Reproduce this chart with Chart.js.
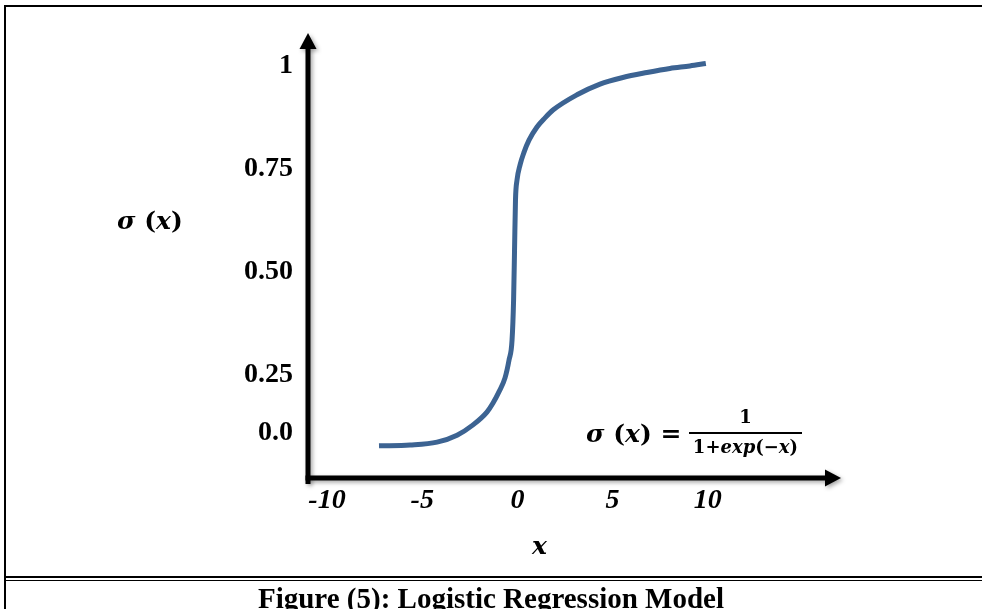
<!DOCTYPE html>
<html><head><meta charset="utf-8">
<script src="https://cdn.jsdelivr.net/npm/chart.js@4.4.1/dist/chart.umd.min.js"></script>
<style>
html,body{margin:0;padding:0;background:#fff;width:982px;height:609px;overflow:hidden;}
#wrap{position:relative;width:982px;height:609px;}
#c{position:absolute;left:0;top:0;}
.t{position:absolute;white-space:nowrap;font-family:"Liberation Serif","Times New Roman",serif;font-weight:bold;color:#000;line-height:1;}
.m{position:absolute;white-space:nowrap;font-family:"DejaVu Serif",serif;font-weight:bold;color:#000;line-height:1;}
.i{font-style:italic;}
.line{position:absolute;background:#000;}
</style>
</head><body>
<div id="wrap">
<canvas id="c" width="982" height="609"></canvas>
<div class="line" style="left:4px;top:5px;width:978px;height:2px;"></div>
<div class="line" style="left:4px;top:5px;width:2px;height:604px;"></div>
<div class="line" style="left:4px;top:576px;width:978px;height:2px;"></div>
<div class="line" style="left:4px;top:580px;width:978px;height:1px;"></div>
<div class="m" id="ytitle" style="left:117px;top:208px;font-size:25px;"><span class="i">σ</span> (<span class="i">x</span>)</div>
<div class="m" id="xtitle" style="left:532px;top:533px;font-size:25px;"><span class="i">x</span></div>
<div class="m" id="flhs" style="left:586px;top:421px;font-size:25px;"><span class="i">σ</span> (<span class="i">x</span>) =</div>
<div class="m" id="frac" style="left:689px;top:408px;width:113px;text-align:center;">
  <div style="font-size:18px;height:19px;">1</div>
  <div style="height:2px;background:#000;margin:5px 0 4px 0;"></div>
  <div style="font-size:18px;">1+<span class="i">exp</span>(−<span class="i">x</span>)</div>
</div>
<div class="t" id="caption" style="left:0;width:982px;text-align:center;top:584px;font-size:29px;">Figure (5): Logistic Regression Model</div>
</div>
<script>
// Curve (x, sigma(x))
const xValues = [-7.27,-5.64,-4.22,-3.17,-2.33,-1.60,-1.28,-0.97,-0.65,-0.44,-0.28,-0.20,-0.15,-0.10,-0.02,0.14,0.35,0.61,1.03,1.45,1.87,3.13,4.34,5.54,6.80,8.01,9.06,9.90];
const sigmaValues = [0.078,0.080,0.087,0.104,0.129,0.160,0.182,0.209,0.243,0.286,0.335,0.432,0.553,0.675,0.723,0.760,0.791,0.820,0.852,0.874,0.893,0.930,0.956,0.972,0.984,0.994,1.000,1.006];
const xTickValues = [-10,-5,0,5,10];
const xTickLabels = ['-10','-5','0','5','10'];
const yTickValues = [0.11,0.25,0.5,0.75,1];
const yTickLabels = ['0.0','0.25','0.50','0.75','1'];

const axesPlugin = {
  id:'axes',
  afterDraw(chart){
    const {ctx, chartArea:a} = chart;
    ctx.save();
    ctx.shadowColor='rgba(0,0,0,0.35)'; ctx.shadowBlur=4; ctx.shadowOffsetX=2; ctx.shadowOffsetY=2;
    ctx.fillStyle='#000';
    ctx.fillRect(a.left-2.5, a.top+14, 5, a.bottom-a.top-14+6);
    ctx.fillRect(a.left-2.5, a.bottom-2.5, a.right-14-(a.left-2.5), 5);
    ctx.beginPath(); ctx.moveTo(a.left, a.top); ctx.lineTo(a.left-8.5, a.top+16); ctx.lineTo(a.left+8.5, a.top+16); ctx.closePath(); ctx.fill();
    ctx.beginPath(); ctx.moveTo(a.right, a.bottom); ctx.lineTo(a.right-16, a.bottom-8.5); ctx.lineTo(a.right-16, a.bottom+8.5); ctx.closePath(); ctx.fill();
    ctx.restore();
  }
};

new Chart(document.getElementById('c'), {
  type:'line',
  data:{datasets:[{
    data: xValues.map((x,i)=>({x:x, y:sigmaValues[i]})),
    borderColor:'#3c6392', borderWidth:5, pointRadius:0,
    cubicInterpolationMode:'monotone', fill:false, borderCapStyle:'butt', borderJoinStyle:'round'
  }]},
  options:{
    responsive:false, animation:false, events:[],
    layout:{padding:{left:0, top:33, right:141, bottom:91}},
    plugins:{legend:{display:false}, tooltip:{enabled:false}},
    scales:{
      x:{
        type:'linear', min:-11, max:17,
        afterBuildTicks:s=>{ s.ticks = xTickValues.map(v=>({value:v})); },
        afterFit:s=>{ s.height = 40; },
        ticks:{callback:(v,i)=>xTickLabels[i], autoSkip:false, maxRotation:0, padding:6, color:'#000',
          font:{family:'Liberation Serif', size:28, weight:'bold', style:'italic'}},
        grid:{display:false, drawTicks:false}, border:{display:false}
      },
      y:{
        type:'linear', min:0, max:1.08,
        afterBuildTicks:s=>{ s.ticks = yTickValues.map(v=>({value:v})); },
        afterFit:s=>{ s.width = 308; },
        ticks:{callback:(v,i)=>yTickLabels[i], autoSkip:false, padding:15, color:'#000',
          font:{family:'Liberation Serif', size:28, weight:'bold'}},
        grid:{display:false, drawTicks:false}, border:{display:false}
      }
    }
  },
  plugins:[axesPlugin]
});
</script>
</body></html>
